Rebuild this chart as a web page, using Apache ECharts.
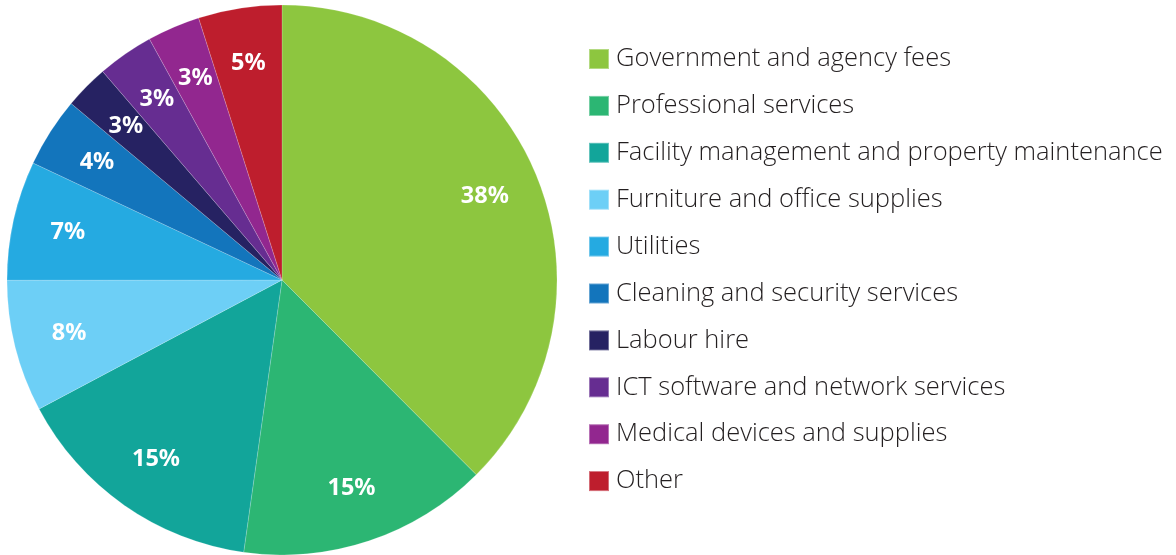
<!DOCTYPE html>
<html><head><meta charset="utf-8">
<script src="https://cdn.jsdelivr.net/npm/echarts@6/dist/echarts.min.js"></script>
<style>html,body{margin:0;padding:0;background:#fff}#c{width:1176px;height:555px}</style>
</head><body><div id="c"></div>
<script>
const categories = ["Government and agency fees","Professional services","Facility management and property maintenance","Furniture and office supplies","Utilities","Cleaning and security services","Labour hire","ICT software and network services","Medical devices and supplies","Other"];
const values = [37.5, 14.7, 15.0, 7.75, 7.0, 4.1, 2.6, 3.3, 3.1, 4.9];
const colors = ["#8DC63F","#2CB673","#12A59A","#6DCFF6","#25AAE1","#1375BC","#262262","#662D91","#92278F","#BE1E2D"];

const data = categories.map((n,i)=>({name:n, value:values[i], itemStyle:{color:colors[i]}}));
const chart = echarts.init(document.getElementById('c'));
chart.setOption({
  animation:false,
  legend:{
    orient:'vertical', left:588, top:46, padding:0, itemWidth:20, itemHeight:20, itemGap:20.9,
    icon:'rect', selectedMode:false,
    textStyle:{fontFamily:'Open Sans', fontWeight:300, fontSize:25.5, lineHeight:20, color:'#231f20', padding:[0,0,0,2]},
    data:categories
  },
  series:[
    {type:'pie', center:[282,280], radius:[0,275], startAngle:90, clockwise:true,
     label:{show:false}, labelLine:{show:false}, silent:true,
     itemStyle:{borderColor:'rgba(255,255,255,0.35)', borderWidth:0.5},
     data:data},
    {type:'pie', center:[282,280], radius:[158,275], startAngle:90, clockwise:true,
     silent:true, legendHoverLink:false,
     itemStyle:{color:'transparent'},
     label:{show:true, position:'inside', color:'#fff', fontFamily:'Noto Sans', fontWeight:'bold', fontSize:23.5,
       formatter:p=>Math.round(p.percent)+'%'},
     labelLine:{show:false},
     data:categories.map((n,i)=>({name:n+' ', value:values[i]}))}
  ]
});
</script></body></html>
